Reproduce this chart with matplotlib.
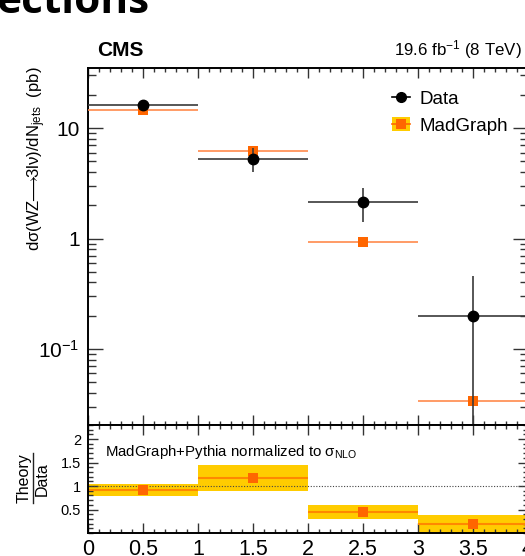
import numpy as np
import matplotlib
matplotlib.use("Agg")
import matplotlib.pyplot as plt
from matplotlib.ticker import FixedLocator, MultipleLocator, FixedFormatter, NullFormatter
from matplotlib.patches import Patch
from matplotlib.lines import Line2D
from matplotlib.legend_handler import HandlerTuple

plt.rcParams['font.family'] = ['Liberation Sans', 'DejaVu Sans']
plt.rcParams['mathtext.fontset'] = 'custom'
plt.rcParams['mathtext.rm'] = 'Liberation Sans'
plt.rcParams['mathtext.it'] = 'Liberation Sans:italic'
plt.rcParams['mathtext.bf'] = 'Liberation Sans:bold'
plt.rcParams['mathtext.fallback'] = 'stixsans'

# jet multiplicity bins
bin_centers = [0.5, 1.5, 2.5, 3.5]
bin_halfwidth = [0.5, 0.5, 0.5, 0.5]

# measured cross section (pb) with asymmetric errors
data_xs = [16.1, 5.25, 2.12, 0.20]
data_err_lo = [1.5, 1.22, 0.72, 0.199]
data_err_hi = [1.5, 1.32, 0.76, 0.26]

# MadGraph prediction (pb)
mg_xs = [14.5, 6.15, 0.93, 0.034]

# theory / data ratio and uncertainty band
ratio = [0.915, 1.17, 0.447, 0.19]
ratio_lo = [0.787, 0.894, 0.29, 0.0]
ratio_hi = [1.036, 1.447, 0.59, 0.38]

GOLD = '#ffcc00'
ORANGE = '#ff6600'
LINE_GREY = '#3a3a3a'

fig = plt.figure(figsize=(5.25, 5.56), dpi=100)
W, H = 525.0, 556.0
ax = fig.add_axes([88 / W, 1 - 425 / H, 440 / W, 357 / H])
rax = fig.add_axes([88 / W, 1 - 533 / H, 440 / W, 108 / H], sharex=ax)

# --- main panel ---
ax.set_yscale('log')
ax.errorbar(bin_centers, mg_xs, xerr=bin_halfwidth, fmt='s', color=ORANGE,
            ms=7, mew=0, ecolor='#ff8a4c', elinewidth=1.2, capsize=0, zorder=3)
ax.errorbar(bin_centers, data_xs, xerr=bin_halfwidth,
            yerr=[data_err_lo, data_err_hi], fmt='o', color='black', ms=7.5,
            ecolor=LINE_GREY, elinewidth=1.2, capsize=0, zorder=4)
ax.set_xlim(0, 4)
ax.set_ylim(0.0205, 35)

ax.yaxis.set_major_locator(FixedLocator([0.1, 1, 10]))
ax.yaxis.set_major_formatter(FixedFormatter([r'$\mathregular{10^{-1}}$', '1', '10']))
minor_y = [m * 10.0 ** e for e in (-2, -1, 0, 1) for m in range(2, 10)]
ax.yaxis.set_minor_locator(FixedLocator(minor_y))
ax.yaxis.set_minor_formatter(NullFormatter())
ax.xaxis.set_major_locator(MultipleLocator(0.5))
ax.xaxis.set_minor_locator(MultipleLocator(0.1))
ax.tick_params(axis='x', labelbottom=False)
ax.tick_params(axis='both', which='both', direction='in', top=True, right=True,
               width=1.0, color='#333333')
ax.tick_params(axis='y', which='major', length=11, labelsize=15, pad=6)
ax.tick_params(axis='y', which='minor', length=5.5)
ax.tick_params(axis='x', which='major', length=7)
ax.tick_params(axis='x', which='minor', length=3)
for s in ax.spines.values():
    s.set_linewidth(1.4)

ax.set_ylabel(r'd$\mathregular{\sigma}$(WZ$\!\!\longrightarrow\!\!$3l$\mathregular{\nu}$)/dN$_{\mathregular{jets}}$  (pb)',
              fontsize=12)
ax.yaxis.set_label_coords(-40 / 440, 1 - (159 - 68) / 357)

# legend
data_handle = Line2D([], [], color='black', marker='o', ms=7, lw=1.2)
mg_handle = (Patch(facecolor=GOLD, edgecolor='none'),
             Line2D([], [], color=ORANGE, marker='s', ms=7, mew=0, lw=1.2))
ax.legend([data_handle, mg_handle], ['Data', 'MadGraph'],
          handler_map={tuple: HandlerTuple(ndivide=1, pad=0)},
          loc='upper left', bbox_to_anchor=(296 / 440, 1 - 15 / 357),
          frameon=False, fontsize=13.5, handlelength=1.0, handleheight=0.75,
          handletextpad=0.5, labelspacing=0.5, borderaxespad=0)

fig.text(97 / W, 1 - 50 / H, 'CMS', fontsize=15, fontweight='bold', va='center')
fig.text(522 / W, 1 - 50 / H, r'19.6 fb$^{\mathregular{-1}}$ (8 TeV)',
         fontsize=12.2, ha='right', va='center')

# --- ratio panel ---
rax.bar(bin_centers, np.array(ratio_hi) - np.array(ratio_lo), bottom=ratio_lo,
        width=1.0, color=GOLD, edgecolor='none', zorder=1)
rax.hlines(ratio, np.array(bin_centers) - 0.5, np.array(bin_centers) + 0.5,
           color='#ff8800', lw=1.5, zorder=2)
rax.plot(bin_centers, ratio, 's', color=ORANGE, ms=7, mew=0, zorder=3)
rax.axhline(1.0, color='#444444', lw=0.8, ls=(0, (1, 1.5)), zorder=2.5)
rax.set_ylim(0, 2.3)
rax.yaxis.set_major_locator(FixedLocator([0.5, 1, 1.5, 2]))
rax.yaxis.set_major_formatter(FixedFormatter(['0.5', '1', '1.5', '2']))
rax.yaxis.set_minor_locator(MultipleLocator(0.1))
rax.xaxis.set_major_locator(MultipleLocator(0.5))
rax.xaxis.set_minor_locator(MultipleLocator(0.1))
rax.xaxis.set_major_formatter(plt.FuncFormatter(lambda v, p: f'{v:g}'))
rax.tick_params(axis='both', which='both', direction='in', top=True, right=True,
                width=1.0, color='#333333')
rax.tick_params(axis='y', which='major', length=7, labelsize=10.5, pad=5)
rax.tick_params(axis='y', which='minor', length=3.5)
rax.tick_params(axis='x', which='major', length=7, labelsize=15.5, pad=4)
rax.tick_params(axis='x', which='minor', length=3)
for s in rax.spines.values():
    s.set_linewidth(1.4)

rax.text(17 / 440, 1 - 27 / 108, r'MadGraph+Pythia normalized to σ$_{\mathregular{NLO}}$',
         transform=rax.transAxes, fontsize=10.8, va='center', ha='left')

# Theory / Data axis title drawn as a stacked fraction
fig.text(24 / W, 1 - 478 / H, 'Theory', rotation=90, fontsize=11.5,
         ha='center', va='center')
fig.text(42 / W, 1 - 479 / H, 'Data', rotation=90, fontsize=11.5,
         ha='center', va='center')
fig.add_artist(Line2D([32.5 / W, 32.5 / W], [1 - 453 / H, 1 - 503 / H],
                      color='#222222', lw=1.0, transform=fig.transFigure))

# slide heading above the figure
fig.text(-4 / W, 1 - 13 / H, 'ections', fontfamily='Open Sans', fontweight='bold',
         fontsize=30.5, va='baseline', ha='left')

fig.savefig('out.png', dpi=100)
